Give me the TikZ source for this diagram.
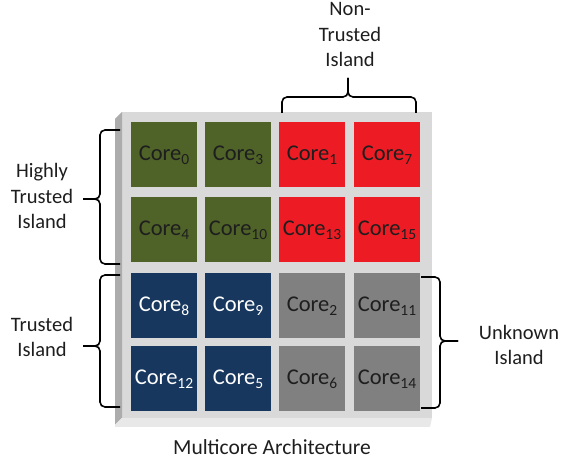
\documentclass[tikz,border=0pt]{standalone}
\usepackage{fontspec}
\setmainfont{Carlito}
\usetikzlibrary{positioning}
\definecolor{coregreen}{RGB}{79,98,40}
\definecolor{corered}{RGB}{237,28,36}
\definecolor{coreblue}{RGB}{23,55,94}
\definecolor{coregray}{RGB}{128,128,128}
\definecolor{boardtop}{RGB}{217,217,217}
\definecolor{boardleft}{RGB}{172,172,172}
\definecolor{boardbottom}{RGB}{232,232,232}
\definecolor{darktext}{RGB}{30,30,30}
% core label with a lowered index
\newcommand{\corelbl}[1]{Core\raisebox{-3.6pt}{\fontsize{15.5}{15.5}\selectfont #1}}
\tikzset{
  tile/.style={minimum width=66pt, minimum height=65pt, inner sep=0pt,
    font=\fontsize{22.5}{26}\selectfont},
  greentile/.style={tile, fill=coregreen, text=darktext},
  redtile/.style={tile, fill=corered, text=darktext},
  bluetile/.style={tile, fill=coreblue, text=white},
  graytile/.style={tile, fill=coregray, text=darktext},
  islandlbl/.style={align=center, inner sep=0pt, text=darktext,
    font=\fontsize{20.5}{25.5}\selectfont},
  brace/.style={draw=black, line width=1.6pt, rounded corners=5pt},
}
\begin{document}
\begin{tikzpicture}[x=1pt, y=-1pt]
\useasboundingbox (0,0) rectangle (563,462);

% board: top face, darker left face, lighter bottom face
\fill[boardtop] (122,112) rectangle (432,418);
\fill[boardleft] (115,119) -- (122,112) -- (122,418) -- (115,425) -- cycle;
\fill[boardbottom] (115,425) -- (122,418) -- (432,418) -- (430,427) -- (115,427) -- cycle;

% cores
\node[greentile] (c0)  at (164,155) {\corelbl{0}};
\node[greentile] (c3)  at (238,155) {\corelbl{3}};
\node[redtile]   (c1)  at (312,155) {\corelbl{1}};
\node[redtile]   (c7)  at (387,155) {\corelbl{7}};
\node[greentile] (c4)  at (164,230) {\corelbl{4}};
\node[greentile] (c10) at (238,230) {\corelbl{10}};
\node[redtile]   (c13) at (312,230) {\corelbl{13}};
\node[redtile]   (c15) at (387,230) {\corelbl{15}};
\node[bluetile]  (c8)  at (164,306) {\corelbl{8}};
\node[bluetile]  (c9)  at (238,306) {\corelbl{9}};
\node[graytile]  (c2)  at (312,306) {\corelbl{2}};
\node[graytile]  (c11) at (387,306) {\corelbl{11}};
\node[bluetile]  (c12) at (164,379) {\corelbl{12}};
\node[bluetile]  (c5)  at (238,379) {\corelbl{5}};
\node[graytile]  (c6)  at (312,379) {\corelbl{6}};
\node[graytile]  (c14) at (387,379) {\corelbl{14}};

% island labels
\node[islandlbl] (ht) at (42,196) {Highly\\Trusted\\Island};
\node[islandlbl] (tr) at (42,337) {Trusted\\Island};
\node[islandlbl] (nt) at (350,35) {Non-\\Trusted\\Island};
\node[islandlbl] (un) at (519,345) {Unknown\\Island};
\node[islandlbl, font=\fontsize{21.5}{25}\selectfont] (cap) at (272,447) {Multicore Architecture};

% braces
\draw[brace] (120,130) -- (100,130) -- (100,199) -- (83,199);
\draw[brace] (83,199) -- (100,199) -- (100,264) -- (120,264);
\draw[brace] (120,275) -- (100,275) -- (100,346) -- (83,346);
\draw[brace] (83,346) -- (100,346) -- (100,407) -- (120,407);
\draw[brace] (282,113) -- (282,97) -- (348,97) -- (348,78);
\draw[brace] (348,78) -- (348,97) -- (416,97) -- (416,113);
\draw[brace] (421,277) -- (440,277) -- (440,341) -- (458,341);
\draw[brace] (458,341) -- (440,341) -- (440,408) -- (421,408);
\end{tikzpicture}
\end{document}
